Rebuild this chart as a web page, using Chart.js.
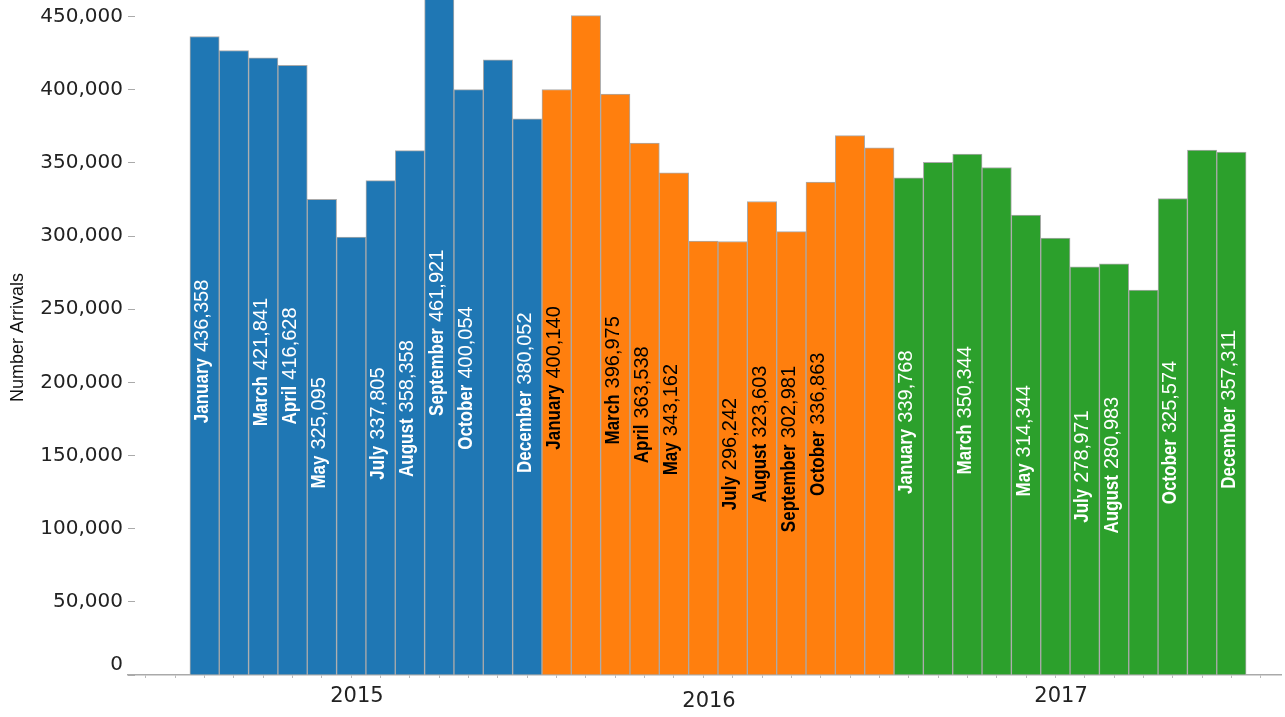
<!DOCTYPE html>
<html><head><meta charset="utf-8">
<script src="https://cdn.jsdelivr.net/npm/chart.js@4.4.1/dist/chart.umd.min.js"></script>
<style>html,body{margin:0;padding:0;background:#fff;} canvas{display:block;}</style>
</head><body>
<canvas id="c" width="1285" height="717"></canvas>
<script>
const years = ['2015', '2016', '2017'];
const values2015 = [436358, 426800, 421841, 416628, 325095, 299300, 337805, 358358, 461921, 400054, 420400, 380052];
const values2016 = [400140, 450600, 396975, 363538, 343162, 296500, 296242, 323603, 302981, 336863, 368600, 360300];
const values2017 = [339768, 350300, 356000, 346800, 314344, 298600, 278971, 280983, 263000, 325574, 358700, 357311];
const barLabels2015 = ['January 436,358', '', 'March 421,841', 'April 416,628', 'May 325,095', '', 'July 337,805', 'August 358,358', 'September 461,921', 'October 400,054', '', 'December 380,052'];
const barLabels2016 = ['January 400,140', '', 'March 396,975', 'April 363,538', 'May 343,162', '', 'July 296,242', 'August 323,603', 'September 302,981', 'October 336,863', '', ''];
const barLabels2017 = ['January 339,768', '', 'March 350,344', '', 'May 314,344', '', 'July 278,971', 'August 280,983', '', 'October 325,574', '', 'December 357,311'];
const yTicks = [0, 50000, 100000, 150000, 200000, 250000, 300000, 350000, 400000, 450000];
const yearColors = ['#1f77b4', '#ff7f0e', '#2ca02c'];
const labelColors = ['#ffffff', '#000000', '#ffffff'];

const allValues = [values2015, values2016, values2017];
const allLabels = [barLabels2015, barLabels2016, barLabels2017];
const yearCenters = years.map((y, k) => k * 12 + 5.5);

const datasets = allValues.map((vals, k) => ({
  label: years[k],
  data: vals.map((v, i) => ({ x: k * 12 + i, y: v })),
  backgroundColor: yearColors[k],
  borderColor: '#aaaaaa',
  borderWidth: 1,
  barPercentage: 1,
  categoryPercentage: 1,
  grouped: false
}));

const barLabelPlugin = {
  id: 'barLabels',
  afterDatasetsDraw(chart) {
    const ctx = chart.ctx;
    const area = chart.chartArea;
    ctx.save();
    ctx.beginPath();
    ctx.rect(area.left, area.top, area.right - area.left, area.bottom - area.top);
    ctx.clip();
    allLabels.forEach((labels, k) => {
      const meta = chart.getDatasetMeta(k);
      labels.forEach((txt, i) => {
        if (!txt) return;
        const el = meta.data[i];
        const sp = txt.indexOf(' ');
        const month = txt.slice(0, sp);
        const val = txt.slice(sp + 1);
        const squeeze = 0.85;
        ctx.font = 'bold 20px "Liberation Sans", Arial, sans-serif';
        const wM = ctx.measureText(month).width * squeeze;
        ctx.font = '20px "Liberation Sans", Arial, sans-serif';
        const wV = ctx.measureText(val).width;
        const gap = 6;
        const total = wM + gap + wV;
        const midY = (el.y + el.base) / 2 - 4;
        ctx.save();
        ctx.translate(el.x + 3.5, midY);
        ctx.rotate(-Math.PI / 2);
        ctx.fillStyle = labelColors[k];
        ctx.textAlign = 'left';
        ctx.textBaseline = 'alphabetic';
        ctx.save();
        ctx.scale(squeeze, 1);
        ctx.font = 'bold 20px "Liberation Sans", Arial, sans-serif';
        ctx.fillText(month, (-total / 2) / squeeze, 0);
        ctx.restore();
        ctx.font = '20px "Liberation Sans", Arial, sans-serif';
        ctx.fillText(val, -total / 2 + wM + gap, 0);
        ctx.restore();
      });
    });
    ctx.restore();
  }
};

new Chart(document.getElementById('c'), {
  type: 'bar',
  data: { datasets },
  plugins: [barLabelPlugin],
  options: {
    responsive: false,
    animation: false,
    devicePixelRatio: 1,
    layout: { padding: { left: 0, right: 4, top: 0, bottom: 0 } },
    plugins: { legend: { display: false }, tooltip: { enabled: false } },
    scales: {
      x: {
        type: 'linear',
        offset: false,
        min: -2.61,
        max: 36.69,
        afterBuildTicks(scale) {
          const t = [];
          for (let v = -2.5; v <= 36.5; v += 1) t.push({ value: v });
          scale.ticks = t;
        },
        afterFit(scale) {
          scale.height = 42;
          scale.paddingLeft = 0;
          scale.paddingRight = 0;
        },
        border: { display: true, color: '#aaaaaa', width: 1.5 },
        grid: { display: true, drawOnChartArea: false, drawTicks: true, tickLength: 3, color: '#bbbbbb' },
        ticks: {
          autoSkip: false,
          maxRotation: 0,
          minRotation: 0,
          padding: 7,
          labelOffset: -9,
          color: '#222222',
          font: (c) => ({ family: '"DejaVu Sans", sans-serif', size: 21,
            lineHeight: (c.tick && c.tick.value === yearCenters[1]) ? '34px' : '24px' }),
          callback: (v) => {
            const idx = yearCenters.indexOf(v);
            return idx >= 0 ? years[idx] : '';
          }
        }
      },
      y: {
        type: 'linear',
        min: 0,
        max: 461300,
        afterBuildTicks(scale) {
          scale.ticks = yTicks.map(v => ({ value: v }));
        },
        afterFit(scale) {
          scale.width = 128;
          scale.paddingTop = 0;
          scale.paddingBottom = 0;
        },
        border: { display: false },
        grid: { display: true, drawOnChartArea: false, drawTicks: true, tickLength: -7, color: '#aaaaaa' },
        ticks: {
          padding: 12,
          color: '#222222',
          font: { family: '"DejaVu Sans", sans-serif', size: 20, lineHeight: 1 },
          callback: (v) => v === 0 ? ['0', ''] : Number(v).toLocaleString('en-US')
        },
        title: {
          display: true,
          text: 'Number Arrivals',
          color: '#111111',
          padding: 7,
          font: { family: '"Liberation Sans Narrow", "Liberation Sans", sans-serif', size: 18 }
        }
      }
    }
  }
});
</script>
</body></html>
